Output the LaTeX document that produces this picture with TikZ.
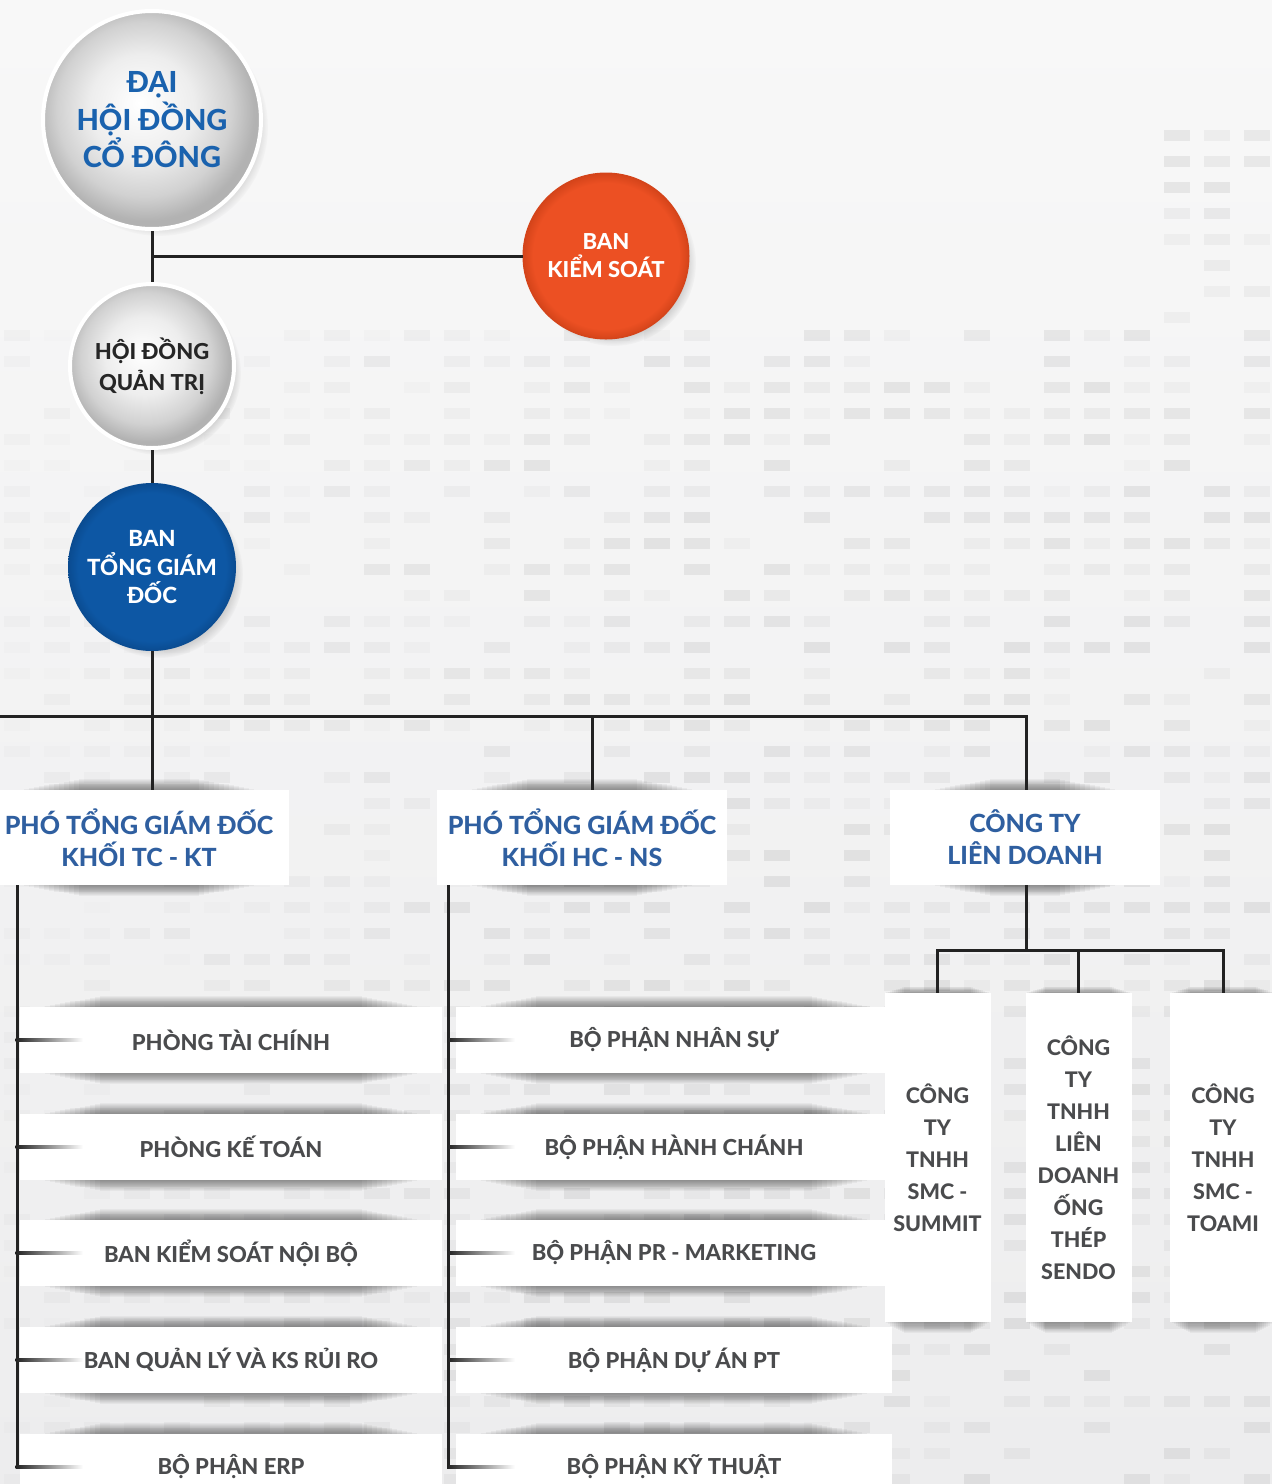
\documentclass[tikz,border=0pt]{standalone}
\usepackage{fontspec}
\setmainfont{Lato}
\IfFontExistsTF{Lato Heavy}{\newfontfamily\hv{Lato Heavy}}{%
  \IfFontExistsTF{Lato Black}{\newfontfamily\hv{Lato Black}}{\newfontfamily\hv{Lato}[FakeBold=2.5]}}
\usetikzlibrary{shadows,calc,fadings}
\definecolor{bigblue}{HTML}{1A62AE}
\definecolor{hdrblue}{HTML}{2F5FA0}
\definecolor{txtgray}{HTML}{4A4B4D}
\definecolor{orng}{HTML}{EC5023}
\definecolor{orngdk}{HTML}{D4441A}
\definecolor{tgdblue}{HTML}{0D57A4}
\definecolor{tgdbluedk}{HTML}{0A4B90}
\definecolor{ln}{HTML}{222222}
\definecolor{bgtop}{HTML}{F8F8F8}
\definecolor{bgbot}{HTML}{EDEDEE}
\pgfdeclareradialshading{ballgray}{\pgfpoint{-3bp}{4bp}}{color(0bp)=(white); color(12bp)=(white!93!black); color(20bp)=(white!82!black); color(25bp)=(white!70!black); color(50bp)=(white!70!black)}
\pgfdeclareradialshading{ballorange}{\pgfpoint{0bp}{0bp}}{color(0bp)=(orng); color(22bp)=(orng); color(25bp)=(orngdk); color(50bp)=(orngdk)}
\pgfdeclareradialshading{ballblue}{\pgfpoint{0bp}{0bp}}{color(0bp)=(tgdblue); color(22bp)=(tgdblue); color(25bp)=(tgdbluedk); color(50bp)=(tgdbluedk)}
\pgfdeclarelayer{bglayer}
\pgfdeclarelayer{shadowlayer}
\pgfsetlayers{bglayer,shadowlayer,main}
\begin{document}
\begin{tikzpicture}[x=1pt,y=-1pt,
  conn/.style={draw=ln, line width=3pt},
  ballshadow/.style={circular drop shadow={shadow xshift=7pt, shadow yshift=-7pt, shadow scale=1.0, opacity=0.4}},
  gball/.style={circle, inner sep=0pt, shade, shading=ballgray, draw=white, line width=4pt, ballshadow, align=center},
  cball/.style={circle, inner sep=0pt, shade, ballshadow, align=center, text=white},
  hdr/.style={rectangle, fill=white, minimum height=95pt, inner sep=0pt, text=hdrblue, align=center, font=\hv\fontsize{25}{32}\selectfont},
  item/.style={rectangle, fill=white, minimum height=66pt, inner sep=0pt, text=txtgray, font=\hv\fontsize{22}{26}\selectfont},
  comp/.style={rectangle, fill=white, minimum height=329pt, inner sep=0pt, text=txtgray, align=center, font=\hv\fontsize{21.5}{32}\selectfont}
]
\clip (0,0) rectangle (1272,1484);
% background
\begin{pgfonlayer}{bglayer}
\shade[top color=bgtop, bottom color=bgbot] (0,0) rectangle (1272,1484);
\pgfmathsetseed{11}
\foreach \cx in {0,40,...,1240}{
  \foreach \cy in {330,356,...,1480}{
    \pgfmathsetmacro\op{(rnd>0.3)*(0.02+0.05*rnd)*min(1,0.35+\cx/900)}
    \fill[black,opacity=\op] (\cx+4,\cy) rectangle (\cx+30,\cy+11);
  }
}
\foreach \cx in {1160,1200,1240}{
  \foreach \cy in {130,156,...,320}{
    \pgfmathsetmacro\op{(rnd>0.3)*(0.02+0.05*rnd)}
    \fill[black,opacity=\op] (\cx+4,\cy) rectangle (\cx+30,\cy+11);
  }
}
\end{pgfonlayer}

% circles
\node[gball, minimum size=218pt, text=bigblue, font=\hv\fontsize{29}{37.5}\selectfont] (dhd) at (152,120) {ĐẠI\\HỘI ĐỒNG\\CỔ ĐÔNG};
\node[gball, minimum size=164pt, text=black!85, font=\hv\fontsize{22}{31}\selectfont] (hdqt) at (152,366) {HỘI ĐỒNG\\QUẢN TRỊ};
\node[cball, shading=ballorange, draw=orngdk, line width=1pt, minimum size=166pt, font=\hv\fontsize{22}{28}\selectfont] (bks) at (606,256) {BAN\\KIỂM SOÁT};
\node[cball, shading=ballblue, minimum size=168pt, font=\hv\fontsize{22.3}{28.5}\selectfont] (tgd) at (152,567) {BAN\\TỔNG GIÁM\\ĐỐC};

% header boxes
\node[hdr, minimum width=300pt] (h1) at (139,837.5) {PHÓ TỔNG GIÁM ĐỐC\\KHỐI TC - KT};
\node[hdr, minimum width=290pt] (h2) at (582,837.5) {PHÓ TỔNG GIÁM ĐỐC\\KHỐI HC - NS};
\node[hdr, minimum width=270pt] (h3) at (1025,837.5) {CÔNG TY\\LIÊN DOANH};

% left items
\node[item, minimum width=422pt] (l1) at (231,1040) {PHÒNG TÀI CHÍNH};
\node[item, minimum width=422pt] (l2) at (231,1147) {PHÒNG KẾ TOÁN};
\node[item, minimum width=422pt] (l3) at (231,1253) {BAN KIỂM SOÁT NỘI BỘ};
\node[item, minimum width=422pt] (l4) at (231,1360) {BAN QUẢN LÝ VÀ KS RỦI RO};
\node[item, minimum width=422pt] (l5) at (231,1467) {BỘ PHẬN ERP};
% middle items
\node[item, minimum width=436pt] (m1) at (674,1040) {BỘ PHẬN NHÂN SỰ};
\node[item, minimum width=436pt] (m2) at (674,1147) {BỘ PHẬN HÀNH CHÁNH};
\node[item, minimum width=436pt] (m3) at (674,1253) {BỘ PHẬN PR - MARKETING};
\node[item, minimum width=436pt] (m4) at (674,1360) {BỘ PHẬN DỰ ÁN PT};
\node[item, minimum width=436pt] (m5) at (674,1467) {BỘ PHẬN KỸ THUẬT};
% companies
\node[comp, minimum width=106pt] (c1) at (937.5,1157.5) {CÔNG\\TY\\TNHH\\SMC -\\SUMMIT};
\node[comp, minimum width=106pt] (c2) at (1078.5,1157.5) {CÔNG\\TY\\TNHH\\LIÊN\\DOANH\\ỐNG\\THÉP\\SENDO};
\node[comp, minimum width=106pt] (c3) at (1223,1157.5) {CÔNG\\TY\\TNHH\\SMC -\\TOAMI};

% soft shadows of boxes
\begin{pgfonlayer}{shadowlayer}
\foreach \n/\w in {h1/30,h2/30,h3/40,l1/20,l2/20,l3/20,l4/20,l5/20,m1/20,m2/20,m3/20,m4/20,m5/20}{
  \foreach \k in {1,...,12}{
    \fill[black,opacity=0.04] ($(\n.north west)+(\w+5*\k,-0.9*\k)$) rectangle ($(\n.south east)+(-\w-5*\k,0.9*\k)$);
  }
}
\foreach \n in {c1,c2,c3}{
  \foreach \k in {1,...,10}{
    \fill[black,opacity=0.04] ($(\n.north west)+(2*\k,-0.6*\k)$) rectangle ($(\n.south east)+(-2*\k,1.1*\k)$);
  }
}
\end{pgfonlayer}

% connectors top
\draw[conn] (dhd.south) -- (hdqt.north);
\draw[conn] (dhd.south |- bks.west) -- (bks.west);
\draw[conn] (hdqt.south) -- (tgd.north);
\draw[conn] (tgd.south) -- (tgd.south |- h1.north);
\coordinate (bus) at (0,716);
\coordinate (h2top) at ($(h2.north)+(10,0)$);
\coordinate (h3top) at ($(h3.north)+(1,0)$);
\draw[conn] (bus) -- (bus -| h3top) -- (h3top);
\draw[conn] (bus -| h2top) -- (h2top);

% left column
\coordinate (lv) at (17,0 |- h1.south);
\draw[conn] (lv) -- ($(lv |- l5)+(0,1.5)$);
\foreach \n in {l1,l2,l3,l4,l5}{
  \shade[left color=ln, middle color=ln!85, right color=white] ($(lv |- \n)+(-1.5,-1.6)$) rectangle ($(lv |- \n)+(66,1.6)$);
}
% middle column
\coordinate (mv) at ($(h2.south west)+(12,0)$);
\draw[conn] (mv) -- ($(mv |- m5)+(0,1.5)$);
\foreach \n in {m1,m2,m3,m4,m5}{
  \shade[left color=ln, middle color=ln!85, right color=white] ($(mv |- \n)+(-1.5,-1.6)$) rectangle ($(mv |- \n)+(66,1.6)$);
}
% right column
\coordinate (rb) at ($(h3.south)+(1,65)$);
\draw[conn] (h3.south -| rb) -- (rb);
\draw[conn] (c1.north) -- (c1.north |- rb) -- (c3.north |- rb) -- (c3.north);
\draw[conn] (c2.north |- rb) -- (c2.north);
\end{tikzpicture}
\end{document}
